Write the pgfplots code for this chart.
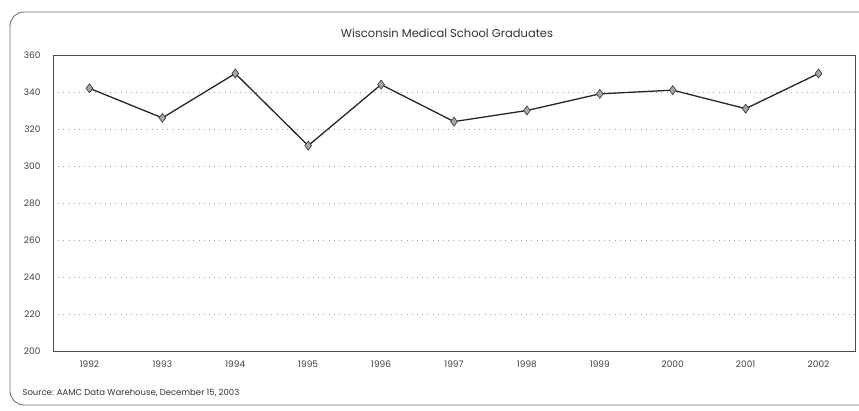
\documentclass[border=0pt]{standalone}
\usepackage{pgfplots}
\pgfplotsset{compat=1.18}
\usepackage{fontspec}
\setmainfont{Poppins}
\begin{document}
\begin{tikzpicture}[x=1pt,y=1pt]
\clip (0,0) rectangle (859,410);
\draw[black!55, line width=0.9pt, rounded corners=14pt] (10,5) rectangle (880,398);
\node[font=\fontsize{11.5}{13}\selectfont, text=black!80] at (447,377) {Wisconsin Medical School Graduates};
\node[font=\fontsize{8.5}{10}\selectfont, text=black!80, anchor=west] at (19,17) {Source: AAMC Data Warehouse, December 15, 2003};
\begin{axis}[
  at={(53pt,59pt)}, anchor=south west,
  scale only axis, width=802pt, height=296pt,
  xmin=-0.5, xmax=10.5, ymin=200, ymax=360,
  xtick={0,...,10},
  xticklabels={1992,1993,1994,1995,1996,1997,1998,1999,2000,2001,2002},
  ytick={200,220,...,360},
  major tick length=0pt,
  ymajorgrids,
  grid style={black!35, line width=0.6pt, dash pattern=on 0.7pt off 4.5pt},
  axis line style={black!70, line width=0.8pt},
  tick label style={font=\fontsize{9}{10}\selectfont, text=black!75},
  /pgf/number format/assume math mode=true,
  /pgf/number format/1000 sep={},
  xticklabel style={yshift=-6pt},
  yticklabel style={xshift=-9pt},
]
\addplot[black!85, line width=1.3pt, mark=diamond*, mark size=4.5pt,
  mark options={fill=black!35, draw=black!80, line width=0.6pt}]
  coordinates {(0,342) (1,326) (2,350) (3,311) (4,344) (5,324) (6,330) (7,339) (8,341) (9,331) (10,350)};
\end{axis}
\end{tikzpicture}
\end{document}
